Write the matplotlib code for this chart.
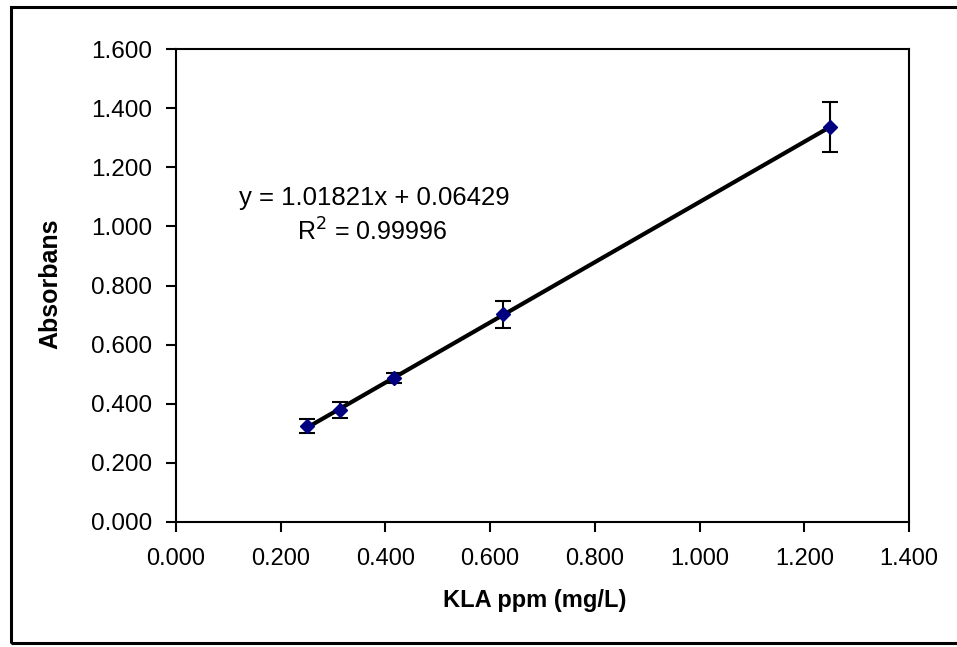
import matplotlib
matplotlib.use("Agg")
import matplotlib.pyplot as plt
from matplotlib.patches import Rectangle
import numpy as np

plt.rcParams['font.family'] = ['Liberation Sans', 'DejaVu Sans']

# Data
conc = [0.25, 0.3125, 0.4167, 0.625, 1.25]
absorb = [0.325, 0.380, 0.487, 0.702, 1.337]
err = [0.024, 0.027, 0.018, 0.046, 0.085]
slope = 1.01821
intercept = 0.06429
r2 = 0.99996
xticks = [0.0, 0.2, 0.4, 0.6, 0.8, 1.0, 1.2, 1.4]
yticks = [0.0, 0.2, 0.4, 0.6, 0.8, 1.0, 1.2, 1.4, 1.6]

W, H = 957, 647
fig = plt.figure(figsize=(W / 100, H / 100), dpi=100)
ax = fig.add_axes([176 / W, 1 - 522 / H, (909 - 176) / W, (522 - 49) / H])

# outer border
fig.patches.append(Rectangle((10.5 / W, 1 - 643 / H), 1.2, (643 - 7) / H,
                             transform=fig.transFigure, fill=False,
                             edgecolor='black', linewidth=2.2, zorder=0))

xs = np.array([min(conc), max(conc)])
ax.plot(xs, slope * xs + intercept, color='black', linewidth=3.0, zorder=2)
ax.errorbar(conc, absorb, yerr=err, fmt='none', ecolor='black',
            elinewidth=1.5, capsize=6, capthick=1.5, zorder=3)
ax.plot(conc, absorb, linestyle='none', marker='D', markersize=7.5,
        color='#000080', zorder=4)

ax.set_xlim(0, 1.4)
ax.set_ylim(0, 1.6)
ax.set_xticks(xticks)
ax.set_yticks(yticks)
ax.set_xticklabels([f"{t:.3f}" for t in xticks], fontsize=17)
ax.set_yticklabels([f"{t:.3f}" for t in yticks], fontsize=17.5)
ax.tick_params(direction='out', length=7, width=1.5, colors='black', pad=10)
ax.tick_params(axis='x', pad=12)
for s in ax.spines.values():
    s.set_linewidth(1.5)
    s.set_color('black')

fig.text(535 / W, 1 - 600 / H, "KLA ppm (mg/L)", ha='center', va='center',
         fontsize=17, fontweight='bold')
fig.text(50 / W, 1 - 284 / H, "Absorbans", ha='center', va='center',
         rotation=90, fontsize=18, fontweight='bold')

fig.text(374 / W, 1 - 198 / H, f"y = {slope:.5f}x + {intercept:.5f}",
         ha='center', va='center', fontsize=18.5)
fig.text(372 / W, 1 - 232 / H, f"R$^2$ = {r2:.5f}",
         ha='center', va='center', fontsize=18)

fig.savefig("out.png", dpi=100)
